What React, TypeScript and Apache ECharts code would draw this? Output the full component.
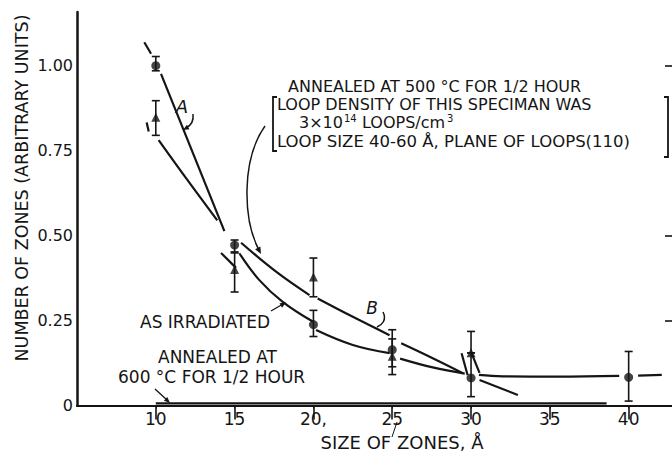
import React, { useEffect, useRef } from 'react';
import * as echarts from 'echarts';

// ---- axis ticks / labels ----
const X_TICKS = [10, 15, 20, 25, 30, 35, 40];
const X_TICK_LABELS = ['10', '15', '20,', '25', '30', '35', '40'];
const Y_TICKS = [0, 0.25, 0.5, 0.75, 1.0];
const Y_TICK_LABELS = ['0', '0.25', '0.50', '0.75', '1.00'];
const RIGHT_TICKS = [0.25, 0.5, 1.0];

// ---- circles (as irradiated) ----
const circleX = [10, 15, 20, 25, 30, 40];
const circleY = [1.0, 0.472, 0.238, 0.164, 0.081, 0.083];
const circleLo = [0.985, 0.452, 0.203, 0.114, 0.026, 0.013];
const circleHi = [1.027, 0.487, 0.28, 0.196, 0.155, 0.159];

// ---- triangles (annealed at 500 C) ----
const triX = [10, 15, 20, 25, 30];
const triY = [0.848, 0.4, 0.378, 0.145, 0.155];
const triLo = [0.795, 0.334, 0.32, 0.091, 0.155];
const triHi = [0.897, 0.449, 0.434, 0.223, 0.218];

// ---- curve A / as irradiated, drawn as broken segments ----
const curveIrr: number[][][] = [
  [[9.27, 1.069], [9.7, 1.035]],
  [[10.33, 0.976], [14.35, 0.513]],
  [[15.3, 0.448], [16.57, 0.369], [18.05, 0.305], [19.96, 0.247]],
  [[20.17, 0.222], [22.5, 0.178], [24.83, 0.154]],
  [[25.5, 0.138], [27.57, 0.112], [29.6, 0.094]],
  [[30.5, 0.09], [32, 0.086], [35.5, 0.085], [39.4, 0.087]],
  [[40.6, 0.088], [42.1, 0.09]],
];

// ---- curve B / annealed at 500 C ----
const curveAnn: number[][][] = [
  [[9.42, 0.833], [9.55, 0.806]],
  [[10.18, 0.781], [11.92, 0.669], [13.9, 0.545]],
  [[14.14, 0.449], [15.09, 0.405]],
  [[15.41, 0.479], [17.63, 0.394], [19.75, 0.325]],
  [[20.27, 0.315], [22.5, 0.261], [24.83, 0.207]],
  [[25.57, 0.183], [27.57, 0.139], [29.48, 0.095]],
  [[29.4, 0.154], [29.78, 0.09]],
  [[30.03, 0.154], [30.54, 0.096]],
  [[30.54, 0.075], [32.97, 0.031]],
];

// ---- annealed at 600 C (flat at zero) ----
const anneal600X = [10, 38.6];
const anneal600Y = [0.006, 0.006];

const FONT = '"DejaVu Sans", "Noto Sans", sans-serif';
const INK = '#151515';

function arrowHead(tip: number[], from: number[], len = 7, w = 3) {
  const dx = tip[0] - from[0];
  const dy = tip[1] - from[1];
  const d = Math.hypot(dx, dy);
  const ux = dx / d, uy = dy / d;
  const bx = tip[0] - ux * len, by = tip[1] - uy * len;
  return {
    type: 'polygon',
    shape: { points: [tip, [bx - uy * w, by + ux * w], [bx + uy * w, by - ux * w]] },
    style: { fill: INK },
  };
}

export default function App() {
  const ref = useRef<HTMLDivElement>(null);
  useEffect(() => {
    if (!ref.current) return;
    const chart = echarts.init(ref.current, null, { renderer: 'svg' });

    const fmtX = (v: number) => {
      const i = X_TICKS.findIndex((t) => Math.abs(t - v) < 1e-6);
      return i >= 0 ? X_TICK_LABELS[i] : '';
    };
    const fmtY = (v: number) => {
      const i = Y_TICKS.findIndex((t) => Math.abs(t - v) < 1e-6);
      return i >= 0 ? Y_TICK_LABELS[i] : '';
    };

    const lineSeries: any[] = [];
    const addCurves = (segs: number[][][], name: string) => {
      segs.forEach((seg, k) => {
        lineSeries.push({
          name: name + k,
          type: 'line',
          data: seg,
          smooth: seg.length > 2 ? 0.4 : false,
          symbol: 'none',
          lineStyle: { color: INK, width: 2.2 },
          z: 2,
        });
      });
    };
    addCurves(curveIrr, 'irr');
    addCurves(curveAnn, 'ann');

    const errData = [
      ...circleX.map((x, i) => [x, circleLo[i], circleHi[i]]),
      ...triX.map((x, i) => [x, triLo[i], triHi[i]]),
    ];

    const text = (t: string, x: number, y: number, extra: any = {}) => ({
      type: 'text',
      x,
      y,
      style: {
        text: t,
        fill: INK,
        font: `17px ${FONT}`,
        lineHeight: 14,
        textAlign: 'left',
        textVerticalAlign: 'middle',
        ...extra,
      },
    });
    const ANN = `16px ${FONT}`;
    const SUP = `10px ${FONT}`;

    const option: any = {
      animation: false,
      backgroundColor: '#ffffff',
      grid: { left: 77, right: 0, top: 12, bottom: 49.5, containLabel: false },
      xAxis: [
        {
          type: 'value',
          min: 5,
          max: 42.75,
          position: 'bottom',
          axisLine: { show: true, lineStyle: { color: INK, width: 2 } },
          axisTick: { show: true, inside: false, length: 3, customValues: X_TICKS, lineStyle: { color: INK, width: 1 } },
          axisLabel: {
            customValues: X_TICKS,
            formatter: fmtX,
            color: INK,
            fontSize: 17,
            fontFamily: FONT,
            margin: 5,
          },
          splitLine: { show: false },
        },
        {
          type: 'value',
          min: 5,
          max: 42.75,
          position: 'top',
          axisLine: { show: true, lineStyle: { color: INK, width: 1.6 } },
          axisTick: { show: true, inside: true, length: 14, customValues: X_TICKS, lineStyle: { color: INK, width: 1.6 } },
          axisLabel: { show: false },
          splitLine: { show: false },
        },
      ],
      yAxis: [
        {
          type: 'value',
          min: 0,
          max: 1.158,
          position: 'left',
          axisLine: { show: true, lineStyle: { color: INK, width: 2.5 } },
          axisTick: { show: false },
          axisLabel: {
            customValues: Y_TICKS,
            formatter: fmtY,
            color: INK,
            fontSize: 16,
            fontFamily: FONT,
            margin: 4,
          },
          splitLine: { show: false },
        },
        {
          type: 'value',
          min: 0,
          max: 1.158,
          position: 'right',
          axisLine: { show: false },
          axisTick: { show: true, inside: true, length: 7, customValues: RIGHT_TICKS, lineStyle: { color: INK, width: 1.6 } },
          axisLabel: { show: false },
          splitLine: { show: false },
        },
      ],
      series: [
        ...lineSeries,
        {
          name: 'anneal600',
          type: 'line',
          data: anneal600X.map((x, i) => [x, anneal600Y[i]]),
          symbol: 'none',
          lineStyle: { color: INK, width: 2.2 },
          z: 2,
        },
        {
          name: 'errors',
          type: 'custom',
          data: errData,
          encode: { x: 0, y: [1, 2] },
          z: 3,
          renderItem: (params: any, api: any) => {
            const x = api.value(0);
            const lo = api.value(1);
            const hi = api.value(2);
            const p1 = api.coord([x, hi]);
            const p2 = api.coord([x, lo]);
            const hw = 4;
            const st = { stroke: INK, lineWidth: 1.6 };
            return {
              type: 'group',
              children: [
                { type: 'line', shape: { x1: p1[0], y1: p1[1], x2: p2[0], y2: p2[1] }, style: st },
                { type: 'line', shape: { x1: p1[0] - hw, y1: p1[1], x2: p1[0] + hw, y2: p1[1] }, style: st },
                { type: 'line', shape: { x1: p2[0] - hw, y1: p2[1], x2: p2[0] + hw, y2: p2[1] }, style: st },
              ],
            };
          },
        },
        {
          name: 'circles',
          type: 'scatter',
          data: circleX.map((x, i) => [x, circleY[i]]),
          symbol: 'circle',
          symbolSize: 9,
          itemStyle: { color: INK },
          z: 4,
        },
        {
          name: 'triangles',
          type: 'scatter',
          data: triX.map((x, i) => [x, triY[i]]),
          symbol: 'triangle',
          symbolSize: 9,
          itemStyle: { color: INK },
          z: 4,
        },
      ],
      graphic: [
        // axis titles
        {
          type: 'text',
          x: 22,
          y: 188,
          rotation: Math.PI / 2,
          style: {
            text: 'NUMBER OF ZONES (ARBITRARY UNITS)',
            fill: INK,
            font: `17.5px ${FONT}`,
            textAlign: 'center',
            textVerticalAlign: 'middle',
          },
        },
        text('SIZE OF ZONES, Å', 402, 442, { textAlign: 'center', font: `18px ${FONT}` }),
        // annotation block
        text('ANNEALED AT 500 °C FOR 1/2 HOUR', 288, 86.5, { font: ANN, lineHeight: 13 }),
        text('LOOP DENSITY OF THIS SPECIMAN WAS', 277, 104, { font: ANN, lineHeight: 13 }),
        text('3×10', 299, 122.5, { font: ANN, lineHeight: 13 }),
        text('14', 344, 118.5, { font: SUP, lineHeight: 8 }),
        text('LOOPS/cm', 362, 122.5, { font: ANN, lineHeight: 13 }),
        text('3', 447, 118.5, { font: SUP, lineHeight: 8 }),
        text('LOOP SIZE 40-60 Å, PLANE OF LOOPS(110)', 277, 141, { font: `16.5px ${FONT}`, lineHeight: 13 }),
        { type: 'polyline', shape: { points: [[277, 97], [273, 97], [273, 151], [277, 151]] }, style: { stroke: INK, lineWidth: 1.8, fill: 'none' } },
        { type: 'polyline', shape: { points: [[664, 97], [668, 97], [668, 157], [664, 157]] }, style: { stroke: INK, lineWidth: 1.8, fill: 'none' } },
        // leader from annotation to curve B
        {
          type: 'bezierCurve',
          shape: { x1: 265, y1: 126, cpx1: 241, cpy1: 160, cpx2: 243, cpy2: 220, x2: 259, y2: 250 },
          style: { stroke: INK, lineWidth: 1.5, fill: 'none' },
        },
        arrowHead([261, 254], [243, 220]),
        // A label and arrow
        text('A', 182, 106, { textAlign: 'center', font: `italic 18px ${FONT}` }),
        {
          type: 'bezierCurve',
          shape: { x1: 193, y1: 114, cpx1: 194, cpy1: 122, cpx2: 190, cpy2: 126, x2: 186, y2: 128 },
          style: { stroke: INK, lineWidth: 1.5, fill: 'none' },
        },
        arrowHead([183, 130], [190, 126], 6, 2.5),
        // B label and tail
        text('B', 372, 308, { textAlign: 'center', font: `italic 17px ${FONT}` }),
        {
          type: 'bezierCurve',
          shape: { x1: 383, y1: 312, cpx1: 387, cpy1: 320, cpx2: 382, cpy2: 325, x2: 377, y2: 327 },
          style: { stroke: INK, lineWidth: 1.5, fill: 'none' },
        },
        // as irradiated
        text('AS IRRADIATED', 140, 322),
        { type: 'line', shape: { x1: 271, y1: 311, x2: 283, y2: 304 }, style: { stroke: INK, lineWidth: 1.3 } },
        arrowHead([286, 302.5], [271, 311], 6, 2.5),
        // annealed at 600
        text('ANNEALED AT', 158, 357),
        text('600 °C FOR 1/2 HOUR', 118, 377),
        { type: 'line', shape: { x1: 155, y1: 389, x2: 167, y2: 400 }, style: { stroke: INK, lineWidth: 1.3 } },
        arrowHead([170, 403], [155, 389], 6, 2.5),
        // stray slash under 25
        { type: 'line', shape: { x1: 397, y1: 422, x2: 392, y2: 437 }, style: { stroke: INK, lineWidth: 1 } },
      ],
    };

    chart.setOption(option);
    return () => chart.dispose();
  }, []);

  return (
    <div
      ref={ref}
      style={{ position: 'fixed', left: 0, top: 0, width: 672, height: 455, background: '#fff' }}
    />
  );
}
